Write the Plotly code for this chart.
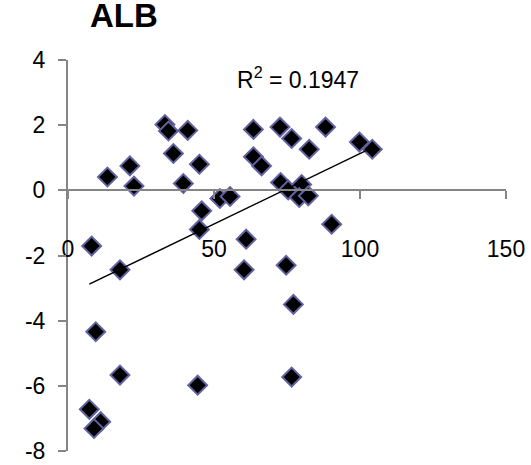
import numpy as np
import plotly.graph_objects as go

# Observations: x value and corresponding ALB response
x_vals = [33.2, 34.4, 41.0, 13.5, 21.2, 22.6, 36.1, 45.0, 39.5, 63.5,
          63.5, 66.3, 52.0, 55.5, 45.8, 45.0, 61.0, 8.1, 17.8, 9.5,
          17.8, 44.4, 7.3, 11.2, 8.9, 60.3, 72.6, 76.6, 82.6, 88.2,
          99.8, 104.2, 72.8, 75.4, 80.0, 79.2, 82.3, 90.3, 74.7, 77.2,
          76.6]
y_vals = [2.02, 1.82, 1.84, 0.41, 0.75, 0.13, 1.13, 0.80, 0.21, 1.87,
          1.03, 0.75, -0.25, -0.19, -0.63, -1.20, -1.50, -1.71, -2.44, -4.34,
          -5.67, -5.98, -6.72, -7.10, -7.31, -2.44, 1.94, 1.59, 1.26, 1.94,
          1.48, 1.26, 0.24, 0.01, 0.18, -0.22, -0.17, -1.04, -2.30, -3.50,
          -5.73]

x_ticks = [0, 50, 100, 150]
y_ticks = [-8, -6, -4, -2, 0, 2, 4]
r2_label = "0.1947"

# Linear least-squares trend over the observed x range
slope, intercept = np.polyfit(x_vals, y_vals, 1)
trend_x = [min(x_vals), max(x_vals)]
trend_y = [slope * v + intercept for v in trend_x]

FONT = "Liberation Sans, Arial, sans-serif"
AXIS_GREY = "#858585"

fig = go.Figure()
fig.add_trace(go.Scatter(
    x=x_vals, y=y_vals, mode="markers",
    marker=dict(symbol="diamond", size=14.5, color="black",
                line=dict(color="#6262a0", width=2)),
    showlegend=False, hoverinfo="skip",
))
fig.add_trace(go.Scatter(
    x=trend_x, y=trend_y, mode="lines",
    line=dict(color="black", width=1.5),
    showlegend=False, hoverinfo="skip",
))

fig.update_layout(
    width=531, height=465,
    margin=dict(l=68, r=25, t=60, b=14),
    paper_bgcolor="white", plot_bgcolor="white",
    font=dict(family=FONT, size=23, color="black"),
    xaxis=dict(
        range=[0, 150], tickvals=x_ticks, ticktext=[str(v) for v in x_ticks],
        showgrid=False, zeroline=False, automargin=False,
        showline=True, linecolor=AXIS_GREY, linewidth=2,
        ticks="outside", ticklen=8, tickwidth=2, tickcolor=AXIS_GREY,
        anchor="free", position=8 / 12,
        ticklabelstandoff=30,
    ),
    yaxis=dict(
        range=[-8, 4], tickvals=y_ticks, ticktext=[str(v) for v in y_ticks],
        showgrid=False, zeroline=False, automargin=False,
        showline=True, linecolor=AXIS_GREY, linewidth=2,
        ticks="outside", ticklen=8, tickwidth=2, tickcolor=AXIS_GREY,
        ticklabelstandoff=8,
    ),
    annotations=[
        dict(text="<b>ALB</b>", xref="paper", yref="paper",
             x=0.128, y=1.113, xanchor="center", yanchor="middle",
             showarrow=False, font=dict(size=33)),
        dict(text="<b>*</b>", xref="paper", yref="paper",
             x=0.29, y=1.16, xanchor="center", yanchor="middle",
             showarrow=False, font=dict(size=26)),
        dict(text="R<sup>2</sup> = " + r2_label, xref="paper", yref="paper",
             x=0.381, y=0.954, xanchor="left", yanchor="middle",
             showarrow=False, font=dict(size=23)),
    ],
)

fig.write_html("out.html")
